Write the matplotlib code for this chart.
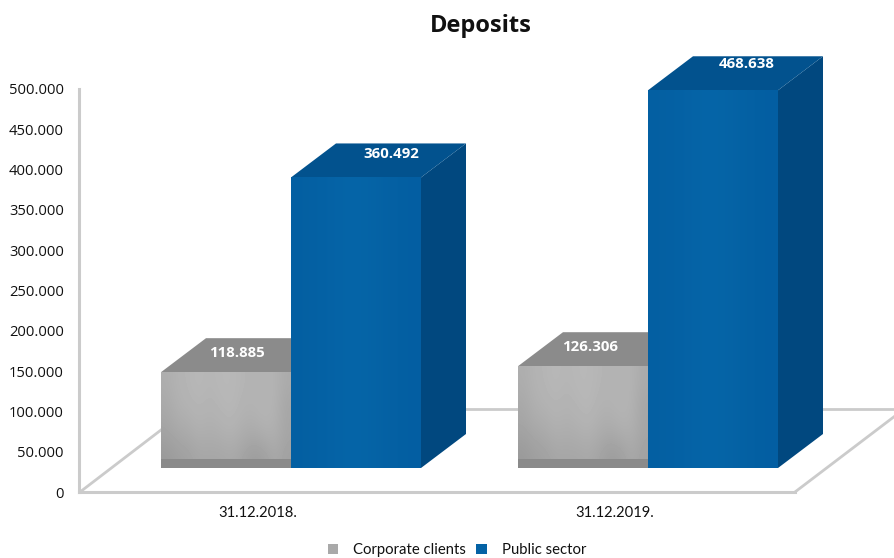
# Deposits chart, hand built 3D look on a normal matplotlib axes
import numpy as np
import matplotlib
matplotlib.use('Agg')
import matplotlib.pyplot as plt
from matplotlib.patches import Polygon, Patch

# Data
periods = ['31.12.2018.', '31.12.2019.']
corporate_clients = [118885, 126306]
public_sector = [360492, 468638]
y_ticks = [0, 50000, 100000, 150000, 200000, 250000, 300000, 350000, 400000, 450000, 500000]
y_tick_labels = ['0', '50.000', '100.000', '150.000', '200.000', '250.000',
                 '300.000', '350.000', '400.000', '450.000', '500.000']

# Layout, x axis runs in pixels, y axis in deposit units
PX = 500000 / 403.0      # units per pixel vertically
Y_BOTTOM = -66 * PX
Y_TOP = 492 * PX
FLOOR = 24 * PX          # bars stand this far above the axis
DX = 45
DY = 34 * PX
BAR_W = 130
GROUP_LEFT = [161, 518]
TICK_X = [258, 615]

# Brushed look of the front faces, first row is the top of the bar
GREY_BANDS = np.array([[0.68, 0.70, 0.71, 0.72, 0.71, 0.72, 0.72, 0.71, 0.70, 0.71, 0.70, 0.67],
                       [0.66, 0.69, 0.70, 0.71, 0.70, 0.71, 0.72, 0.70, 0.70, 0.71, 0.70, 0.65],
                       [0.64, 0.66, 0.67, 0.69, 0.68, 0.69, 0.70, 0.68, 0.67, 0.69, 0.69, 0.65],
                       [0.60, 0.62, 0.63, 0.65, 0.65, 0.65, 0.66, 0.64, 0.61, 0.62, 0.66, 0.63]])
BLUE_BANDS = np.array([[[0.015, 0.375, 0.635], [0.02, 0.385, 0.65], [0.025, 0.40, 0.66],
                        [0.02, 0.385, 0.645], [0.012, 0.37, 0.635]]])


def draw_bar(ax, left, value, front, top, side, strip=None):
    low = FLOOR
    high = FLOOR + value
    right = left + BAR_W
    ax.add_patch(Polygon([(right, low), (right + DX, low + DY), (right + DX, high + DY), (right, high)],
                         facecolor=side, edgecolor='none', zorder=3))
    ax.add_patch(Polygon([(left, high), (left + DX, high + DY), (right + DX, high + DY), (right, high)],
                         facecolor=top, edgecolor='none', zorder=3))
    if front.ndim == 2:
        ax.imshow(front, extent=(left, right, low, high), aspect='auto', cmap='gray',
                  vmin=0, vmax=1, interpolation='bicubic', zorder=4)
    else:
        ax.imshow(front, extent=(left, right, low, high), aspect='auto',
                  interpolation='bicubic', zorder=4)
    if strip is not None:
        ax.fill_between([left, right], low, low + 9 * PX, color=strip, linewidth=0, zorder=5)


def main():
    fig = plt.figure(figsize=(8.95, 5.58), dpi=100, facecolor='white')
    ax = fig.add_axes([0, 0, 1, 1])
    ax.patch.set_visible(False)

    # Floor lines behind the bars
    wall = '#cbcbcb'
    ax.plot([80, 161], [0, 62 * PX], color=wall, lw=2, zorder=1)
    ax.plot([421, 895], [83 * PX, 83 * PX], color=wall, lw=2, zorder=1)
    ax.plot([795, 895], [0, 76 * PX], color=wall, lw=2, zorder=1)

    for i in range(len(periods)):
        left = GROUP_LEFT[i]
        draw_bar(ax, left, corporate_clients[i], GREY_BANDS, '#8b8b8b', '#7d7d7d', strip='#8a8a8a')
        draw_bar(ax, left + BAR_W, public_sector[i], BLUE_BANDS, '#02528e', '#01487f')

    # Value labels sit on the top faces
    label_font = dict(color='white', fontweight='bold', fontsize=10.8, family='Open Sans',
                      ha='center', va='center', zorder=6)
    ax.text(GROUP_LEFT[0] + 76, FLOOR + corporate_clients[0] + 19 * PX, '118.885', **label_font)
    ax.text(GROUP_LEFT[0] + BAR_W + 100, FLOOR + public_sector[0] + 23 * PX, '360.492', **label_font)
    ax.text(GROUP_LEFT[1] + 72, FLOOR + corporate_clients[1] + 19 * PX, '126.306', **label_font)
    ax.text(GROUP_LEFT[1] + BAR_W + 99, FLOOR + public_sector[1] + 26 * PX, '468.638', **label_font)

    ax.set_xlim(0, 895)
    ax.set_ylim(Y_BOTTOM, Y_TOP)

    # Axes
    for s in ['top', 'right']:
        ax.spines[s].set_visible(False)
    ax.spines['left'].set_position(('data', 79))
    ax.spines['left'].set_bounds(0, 500000)
    ax.spines['bottom'].set_position(('data', 0))
    ax.spines['bottom'].set_bounds(79, 795)
    for s in ['left', 'bottom']:
        ax.spines[s].set_color(wall)
        ax.spines[s].set_linewidth(2.2)
    ax.set_yticks(y_ticks)
    ax.set_yticklabels(y_tick_labels, family='Open Sans', fontsize=10.6, color='#111111')
    ax.set_xticks(TICK_X)
    ax.set_xticklabels(periods, family='Lato', fontsize=10.6, color='#111111')
    ax.tick_params(axis='y', length=0, pad=11)
    ax.tick_params(axis='x', length=0, pad=10)

    ax.text(481, Y_TOP - 26 * PX, 'Deposits', family='Open Sans', fontweight='bold', fontsize=17,
            color='#111111', ha='center', va='center')

    handles = [Patch(facecolor='#a9a9a9', label='Corporate clients'),
               Patch(facecolor='#0462a5', label='Public sector')]
    ax.legend(handles=handles, ncol=2, frameon=False, loc='center',
              bbox_to_anchor=(457 / 895.0, 8 / 558.0), prop={'family': 'Lato', 'size': 10.7},
              handlelength=0.7, handleheight=0.7, handletextpad=1.0, columnspacing=0.7,
              labelcolor='#111111', borderpad=0, borderaxespad=0)

    fig.savefig('out.png', dpi=100)


if __name__ == '__main__':
    main()
